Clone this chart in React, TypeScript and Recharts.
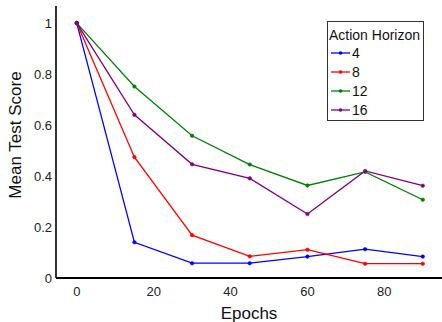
import { LineChart, Line, XAxis, YAxis } from "recharts";

const epochs = [0, 15, 30, 45, 60, 75, 90];
const horizon4 = [1, 0.14, 0.058, 0.058, 0.084, 0.113, 0.084];
const horizon8 = [1, 0.474, 0.168, 0.085, 0.111, 0.056, 0.056];
const horizon12 = [1, 0.751, 0.558, 0.445, 0.363, 0.416, 0.307];
const horizon16 = [1, 0.64, 0.446, 0.391, 0.251, 0.42, 0.362];

const xTicks = [0, 20, 40, 60, 80];
const yTicks = [0, 0.2, 0.4, 0.6, 0.8, 1];

const SERIES = [
  { key: "h4", label: "4", values: horizon4, color: "#0000ff" },
  { key: "h8", label: "8", values: horizon8, color: "#ff0000" },
  { key: "h12", label: "12", values: horizon12, color: "#008000" },
  { key: "h16", label: "16", values: horizon16, color: "#800080" },
];

const FONT = '"Liberation Sans", Arial, sans-serif';

const rows = epochs.map((epoch, i) => {
  const row: Record<string, number> = { epoch };
  for (const s of SERIES) row[s.key] = s.values[i];
  return row;
});

function LegendBox() {
  return (
    <div
      style={{
        position: "absolute",
        left: 327,
        top: 21,
        width: 97,
        height: 100,
        border: "1px solid #333",
        background: "#fff",
        fontFamily: FONT,
        fontSize: 14,
        color: "#111",
        boxSizing: "border-box",
      }}
    >
      <div style={{ position: "absolute", left: 1, top: 5, whiteSpace: "nowrap", lineHeight: "16px" }}>
        Action Horizon
      </div>
      {SERIES.map((s, i) => (
        <div
          key={s.key}
          style={{ position: "absolute", left: 3, top: 23 + i * 19, height: 16, display: "flex", alignItems: "center" }}
        >
          <svg width={19} height={16}>
            <line x1={0} x2={19} y1={8} y2={8} stroke={s.color} strokeWidth={1.3} />
            <circle cx={9.5} cy={8} r={1.8} fill={s.color} />
          </svg>
          <span style={{ marginLeft: 2, lineHeight: "16px" }}>{s.label}</span>
        </div>
      ))}
    </div>
  );
}

export default function App() {
  return (
    <div style={{ position: "absolute", left: 0, top: 0, width: 442, height: 322, background: "#fff", overflow: "hidden" }}>
      <LineChart width={442} height={322} data={rows} margin={{ top: 6, right: 0, bottom: 0, left: 0 }}>
        <XAxis
          xAxisId="top"
          orientation="top"
          dataKey="epoch"
          type="number"
          domain={[-5.4, 95]}
          height={0}
          tick={false}
          tickLine={false}
          axisLine={{ stroke: "#555", strokeWidth: 1.2 }}
        />
        <XAxis
          dataKey="epoch"
          type="number"
          domain={[-5.4, 95]}
          ticks={xTicks}
          height={44}
          tickLine={false}
          tickSize={0}
          tickMargin={9}
          axisLine={{ stroke: "#000", strokeWidth: 2 }}
          tick={{ fill: "#222", fontSize: 13, fontFamily: FONT }}
          label={{ value: "Epochs", position: "insideBottom", offset: 3, fill: "#111", fontSize: 17, fontFamily: FONT }}
        />
        <YAxis
          type="number"
          domain={[0, 1.067]}
          ticks={yTicks}
          width={56}
          tickLine={false}
          tickSize={0}
          tickMargin={4}
          axisLine={{ stroke: "#000", strokeWidth: 1.6 }}
          tick={{ fill: "#222", fontSize: 13, fontFamily: FONT }}
          tickFormatter={(v: number) => String(v)}
          label={{
            content: () => (
              <text
                x={15}
                y={135}
                transform="rotate(-90 15 135)"
                textAnchor="middle"
                dominantBaseline="central"
                fill="#111"
                fontSize={17}
                fontFamily={FONT}
              >
                Mean Test Score
              </text>
            ),
          }}
        />
        {SERIES.map((s) => (
          <Line
            key={s.key}
            dataKey={s.key}
            stroke={s.color}
            strokeWidth={1.3}
            dot={{ r: 1.8, fill: s.color, stroke: s.color, strokeWidth: 0.5 }}
            isAnimationActive={false}
          />
        ))}
      </LineChart>
      <LegendBox />
    </div>
  );
}
